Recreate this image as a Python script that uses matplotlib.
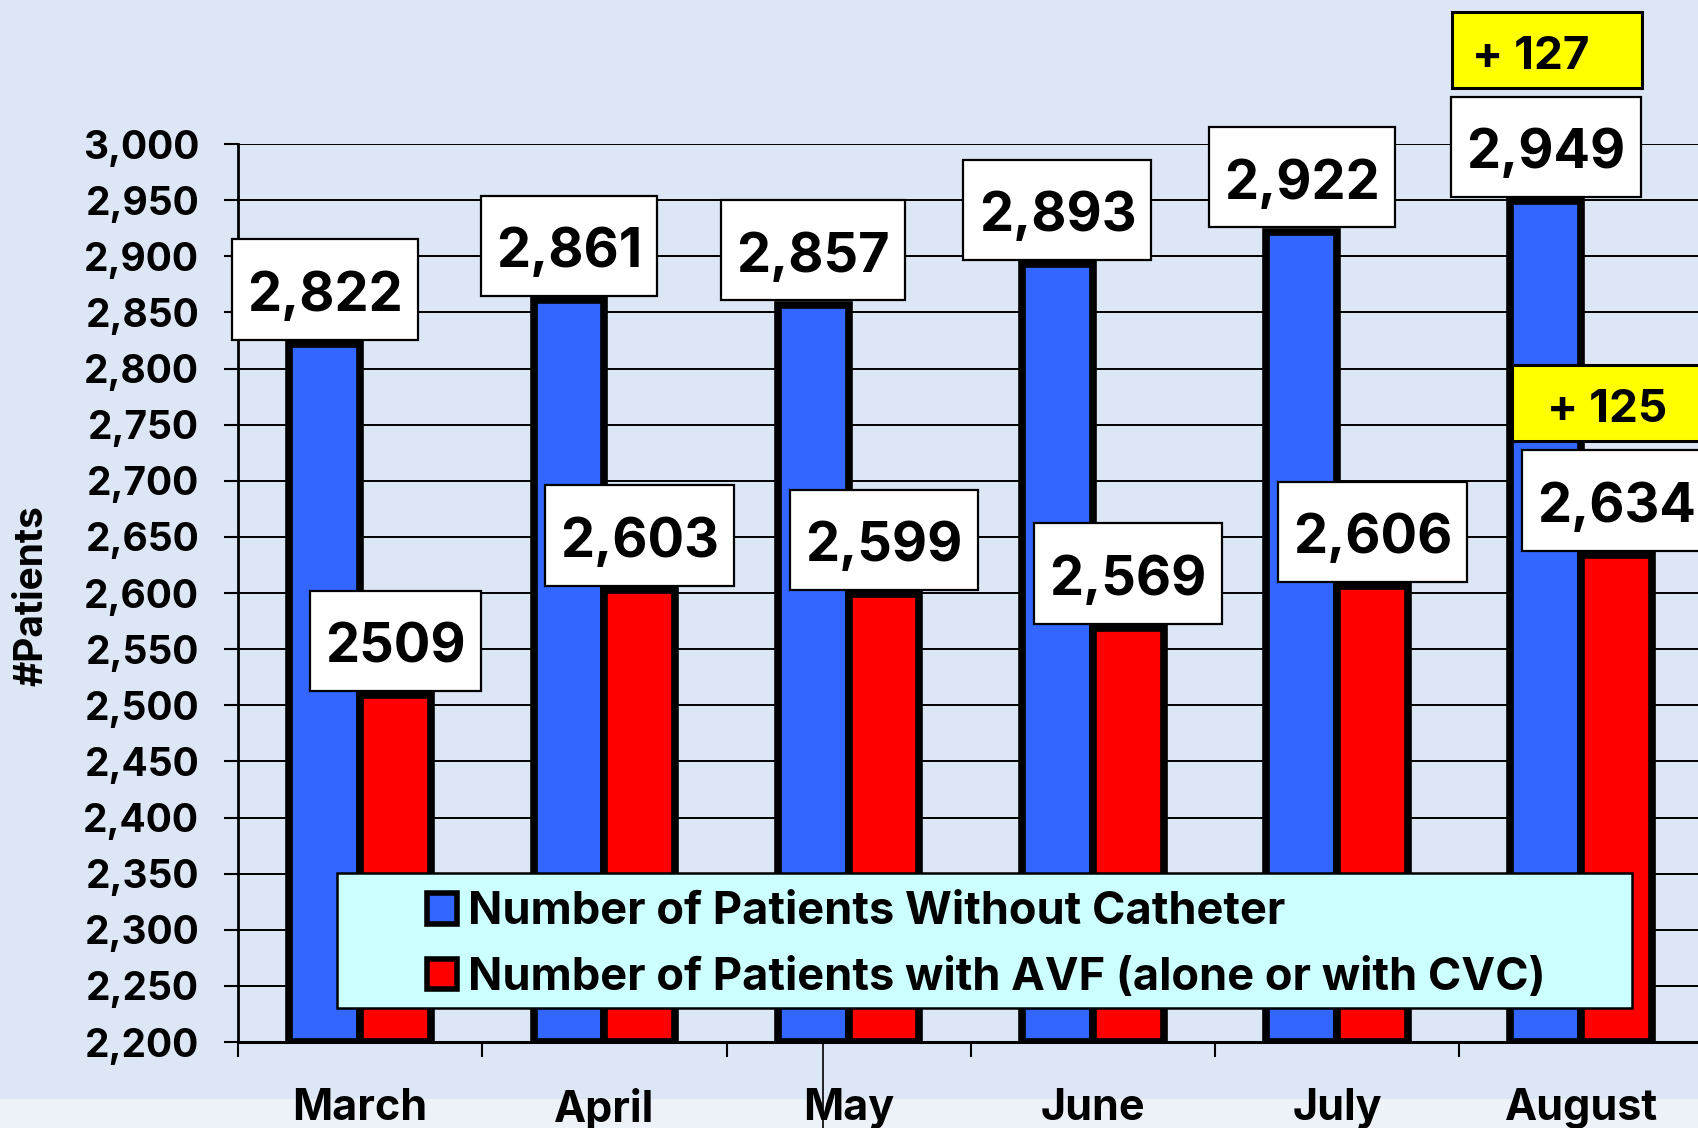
import matplotlib

matplotlib.use("Agg")

import matplotlib.pyplot as plt
from matplotlib.patches import Rectangle
from matplotlib.path import Path
import numpy as np

months = ["March", "April", "May", "June", "July", "August"]
without_catheter = [2822, 2861, 2857, 2893, 2922, 2949]
with_avf = [2509, 2603, 2599, 2569, 2606, 2634]
without_labels = ["2,822", "2,861", "2,857", "2,893", "2,922", "2,949"]
avf_labels = ["2509", "2,603", "2,599", "2,569", "2,606", "2,634"]
gain_without = "+ 127"
gain_avf = "+ 125"

series_names = [
    "Number of Patients Without Catheter",
    "Number of Patients with AVF (alone or with CVC)",
]

BLUE = "#3366FF"
RED = "#FF0000"
BG = "#DCE6F5"

plt.rcParams["font.family"] = ["Inter", "Liberation Sans", "DejaVu Sans"]
plt.rcParams["font.weight"] = "bold"


def box_style(left, right, bottom, top):
    """Rectangle box with separate paddings (fractions of the font size)."""

    def style(x0, y0, width, height, mutation_size):
        xa = x0 - left * mutation_size
        xb = x0 + width + right * mutation_size
        ya = y0 - bottom * mutation_size
        yb = y0 + height + top * mutation_size
        return Path([(xa, ya), (xb, ya), (xb, yb), (xa, yb), (xa, ya)], closed=True)

    return style


fig = plt.figure(figsize=(16.98, 11.28), dpi=100, facecolor=BG)
# lighter band at the very bottom of the slide
fig.add_artist(Rectangle((0, 0), 1, 0.026, transform=fig.transFigure,
                         facecolor="#EDF2F9", edgecolor="none", zorder=-5))

ax = fig.add_axes([0.1402, 0.0762, 0.863, 0.7961])
ax.set_facecolor("none")

y_min, y_max = 2200, 3000
x = np.arange(len(months))
w = 0.29

base = np.full(len(months), y_min)
ax.bar(x - w / 2, np.array(without_catheter) - base, w, bottom=base,
       color=BLUE, edgecolor="black", linewidth=5.5, zorder=3)
ax.bar(x + w / 2, np.array(with_avf) - base, w, bottom=base,
       color=RED, edgecolor="black", linewidth=5.5, zorder=3)

ax.set_ylim(y_min, y_max)
ax.set_xlim(-0.5, len(months) - 0.5)
ax.set_yticks(np.arange(y_min, y_max + 1, 50))
ax.set_yticklabels([f"{v:,}" for v in range(y_min, y_max + 1, 50)])
ax.yaxis.grid(True, color="black", linewidth=1.4)
ax.set_axisbelow(True)

ax.set_xticks(np.arange(-0.5, len(months), 1.0))
ax.set_xticklabels([])
ax.set_xticks(x, minor=True)
ax.set_xticklabels(months, minor=True)
ax.tick_params(axis="x", which="major", direction="out", length=11, width=1.5)
ax.tick_params(axis="x", which="minor", length=0, pad=33, labelsize=31)
ax.tick_params(axis="y", direction="out", length=10, width=1.5, pad=18, labelsize=28)

for side in ["top", "right"]:
    ax.spines[side].set_visible(False)
ax.spines["left"].set_linewidth(2)
ax.spines["bottom"].set_linewidth(2.2)

fig.text(0.019, 0.472, "#Patients", rotation=90, ha="center", va="center",
         fontsize=28, fontweight="bold")

# stray vertical line through "May" in the original slide
ax.plot([1.896, 1.896], [0, -0.12], color="black", linewidth=1.2,
        transform=ax.get_xaxis_transform(), clip_on=False)

value_fs = 39
v_left, v_right, v_bottom, v_top = 0.28, 0.28, 0.33, 0.58
value_box = dict(boxstyle=box_style(v_left, v_right, v_bottom, v_top),
                 facecolor="white", edgecolor="black", linewidth=1.6)
lift = v_bottom * value_fs + 3


def value_label(xpos, val, text):
    return ax.annotate(text, xy=(xpos, val), xytext=(0, lift),
                       textcoords="offset points", ha="center", va="bottom",
                       fontsize=value_fs, fontweight="bold", bbox=value_box,
                       zorder=6, annotation_clip=False)


blue_texts = [value_label(xi - w / 2, v, t)
              for xi, v, t in zip(x, without_catheter, without_labels)]
red_texts = [value_label(xi + w / 2, v, t)
             for xi, v, t in zip(x, with_avf, avf_labels)]

gain_fs = 33
g_bottom, g_top = 0.22, 0.52
gain_lift = v_top * value_fs + 6.6 + g_bottom * gain_fs

ax.annotate(gain_without, xy=(0.5, 1), xycoords=blue_texts[-1],
            xytext=(-11, gain_lift), textcoords="offset points",
            ha="center", va="bottom", fontsize=gain_fs, fontweight="bold",
            bbox=dict(boxstyle=box_style(0.44, 1.16, g_bottom, g_top),
                      facecolor="#FFFF00", edgecolor="black", linewidth=2.2),
            zorder=7)
ax.annotate(gain_avf, xy=(0.5, 1), xycoords=red_texts[-1],
            xytext=(-7, gain_lift), textcoords="offset points",
            ha="center", va="bottom", fontsize=gain_fs, fontweight="bold",
            bbox=dict(boxstyle=box_style(0.76, 0.76, g_bottom, g_top),
                      facecolor="#FFFF00", edgecolor="black", linewidth=2.2),
            zorder=7)

# legend panel
ax.add_patch(Rectangle((0.0676, 0.0379), 0.8839, 0.1503, transform=ax.transAxes,
                       facecolor="#CCFFFF", edgecolor="black", linewidth=1.8,
                       zorder=8, clip_on=False))
handles = [Rectangle((0, 0), 1, 1, facecolor=BLUE, edgecolor="black", linewidth=4),
           Rectangle((0, 0), 1, 1, facecolor=RED, edgecolor="black", linewidth=4)]
leg = ax.legend(handles, series_names, loc="upper left",
                bbox_to_anchor=(0.129, 0.168), bbox_transform=ax.transAxes,
                frameon=False, fontsize=32.5, borderpad=0, borderaxespad=0,
                handlelength=0.66, handleheight=0.66, handletextpad=0.24,
                labelspacing=0.53)
leg.set_zorder(9)
for t in leg.get_texts():
    t.set_fontweight("bold")

fig.savefig("out.png", dpi=100, facecolor=BG)
